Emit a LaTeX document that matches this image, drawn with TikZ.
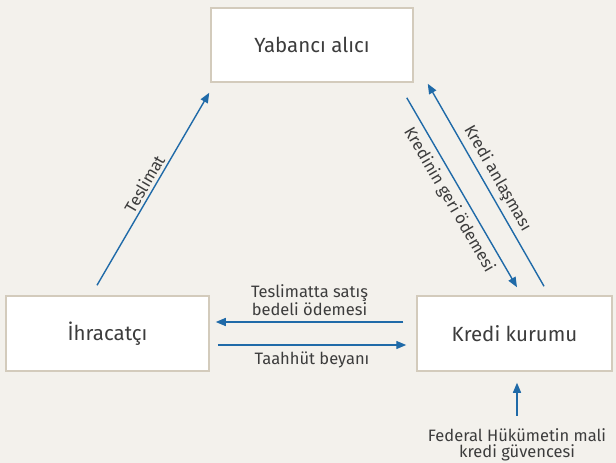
\documentclass[tikz,border=0pt]{standalone}
\usepackage{fontspec}
\setmainfont{Fira Sans}
\usetikzlibrary{positioning, arrows.meta, calc, backgrounds}

\definecolor{flowblue}{HTML}{1F6AA8}
\definecolor{boxline}{HTML}{D3CBBC}
\definecolor{paper}{HTML}{F3F1EC}
\definecolor{ink}{HTML}{3C3C3C}

\begin{document}
\begin{tikzpicture}[
    x=1pt, y=-1pt,
    arrow/.style={
        -{Triangle[length=10pt,width=8pt]},
        flowblue,
        line width=1.4pt
    },
    party/.style={ % one of the three parties
        rectangle,
        draw=boxline,
        line width=1.5pt,
        fill=white,
        minimum width=202pt,
        minimum height=74pt,
        font=\fontsize{20.5}{24}\selectfont,
        text=ink
    },
    flowtext/.style={
        font=\fontsize{16.5}{16.5}\selectfont,
        text=ink,
        align=center,
        inner sep=1pt
    }
]

    % page
    \fill[paper] (0,0) rectangle (616,463);
    \useasboundingbox (0,0) rectangle (616,463);

    % the three parties
    \node[party] (buyer) at (312,45) {Yabancı alıcı};
    \node[party, minimum width=203pt, minimum height=75pt] (exporter) at (107.5,333.5) {İhracatçı};
    \node[party, minimum width=195pt, minimum height=75pt] (lender) at (514.5,333.5) {Kredi kurumu};

    \node[flowtext] (guarantee) at (517,445) {Federal Hükümetin mali\\kredi güvencesi};

    % diagonal flows
    \draw[arrow] ($(exporter.north)+(-10.5,-10)$) -- ($(buyer.south west)+(-1,10)$)
        node[flowtext, midway, sloped, above=2pt] {Teslimat};
    \draw[arrow] ($(buyer.south east)+(-7,15)$) -- ($(lender.north)+(2.5,-8)$)
        node[flowtext, midway, sloped, below=5pt] {Kredinin geri ödemesi};
    \draw[arrow] ($(lender.north)+(29.5,-9)$) -- ($(buyer.south east)+(14,1)$)
        node[flowtext, midway, sloped, above=3pt] {Kredi anlaşması};

    % horizontal flows
    \draw[arrow] ($(lender.west)+(-13,-11.5)$) -- ($(exporter.east)+(6,-11.5)$)
        node[flowtext, midway, above=5pt] {Teslimatta satış\\bedeli ödemesi};
    \draw[arrow] ($(exporter.east)+(8,11.5)$) -- ($(lender.west)+(-10,11.5)$)
        node[flowtext, midway, below=5pt] {Taahhüt beyanı};

    % guarantee
    \draw[arrow] ($(lender.south)+(2.5,44)$) -- ($(lender.south)+(2.5,11)$);

\end{tikzpicture}
\end{document}
